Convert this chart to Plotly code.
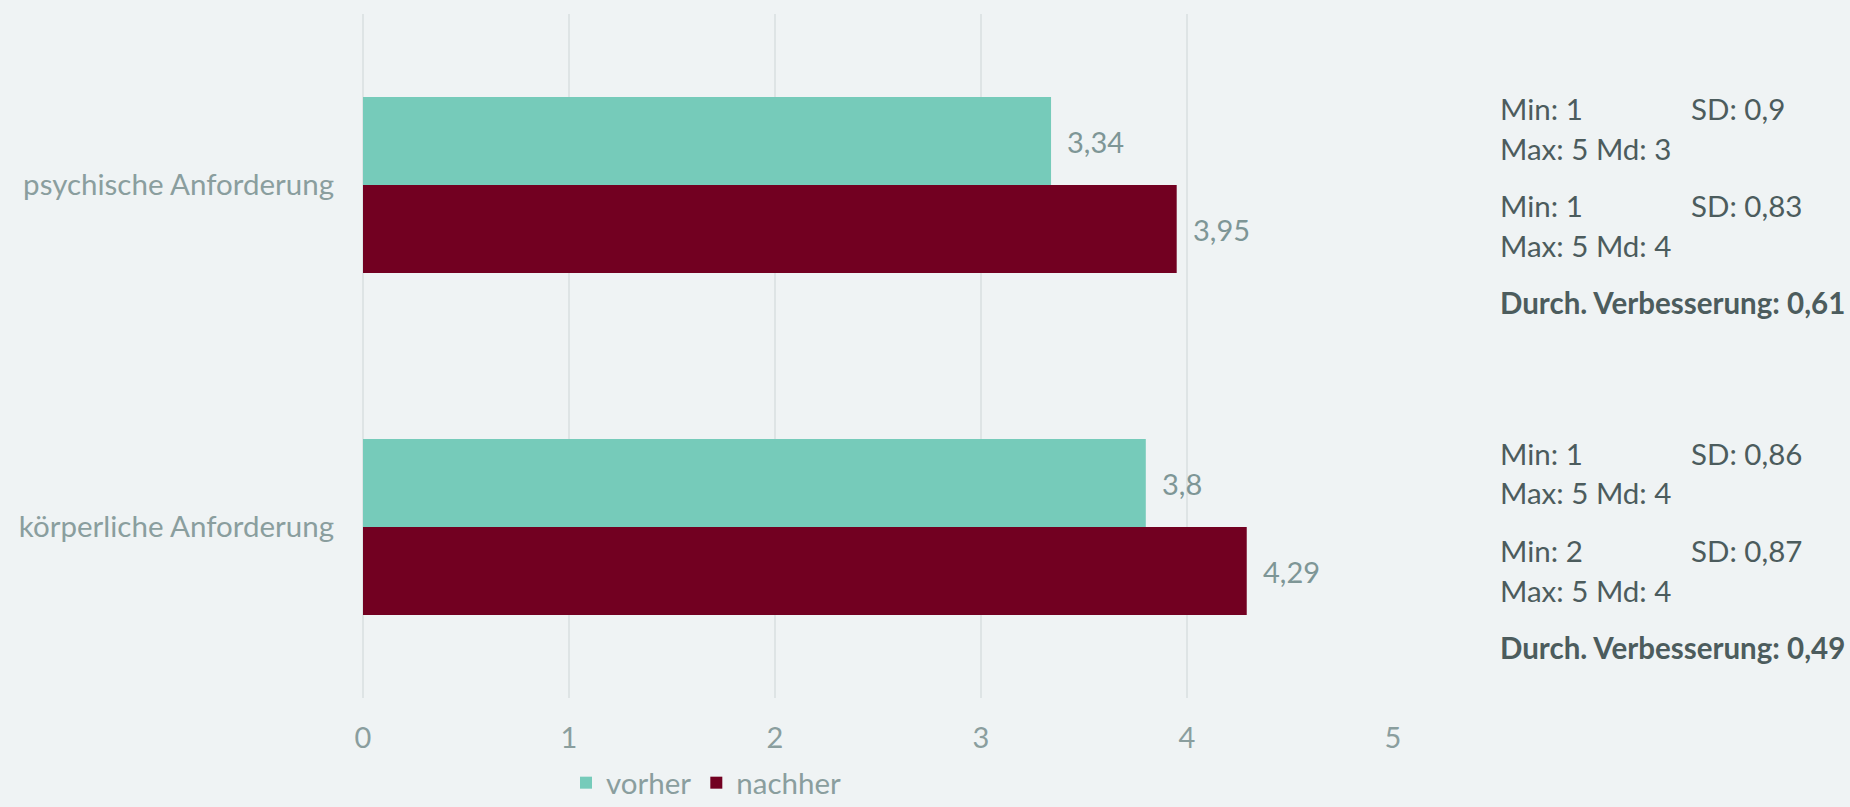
import plotly.graph_objects as go

# Categories (top to bottom) and mean scores before / after
categories = ["psychische Anforderung", "körperliche Anforderung"]
vorher = [3.34, 3.80]
nachher = [3.95, 4.29]
series_names = ["vorher", "nachher"]

# Descriptive statistics shown beside each category
stats_vorher = [
    {"min": 1, "max": 5, "sd": "0,9", "md": 3},
    {"min": 1, "max": 5, "sd": "0,86", "md": 4},
]
stats_nachher = [
    {"min": 1, "max": 5, "sd": "0,83", "md": 4},
    {"min": 2, "max": 5, "sd": "0,87", "md": 4},
]
improvement = ["0,61", "0,49"]

x_ticks = [0, 1, 2, 3, 4, 5]

TEAL = "#76CBBA"
WINE = "#720021"
BG = "#EFF3F4"
GRID = "#DEE4E5"
AXIS_TXT = "#8A9E9E"
VAL_TXT = "#7E9696"
STAT_TXT = "#4C5C5D"
FONT = "Lato"
FS = 29.5

W, H = 1850, 807
L, R, T, B = 363, 457, 14, 109
plot_h = H - T - B


def fmt(v):
    return f"{v:g}".replace(".", ",")


def py(pix):
    """Pixel row -> paper y."""
    return (H - B - pix) / plot_h


def px(pix):
    """Pixel column -> paper x."""
    return (pix - L) / (W - L - R)


fig = go.Figure()
fig.add_trace(go.Bar(y=categories, x=vorher, name=series_names[0], orientation="h",
                     marker=dict(color=TEAL, line=dict(width=0))))
fig.add_trace(go.Bar(y=categories, x=nachher, name=series_names[1], orientation="h",
                     marker=dict(color=WINE, line=dict(width=0))))

annotations = []
# value labels right of each bar
for cat, v in zip(categories, vorher):
    annotations.append(dict(x=v, y=cat, xref="x", yref="y", text=fmt(v), showarrow=False,
                            xanchor="left", yanchor="middle", xshift=14, yshift=44,
                            font=dict(family=FONT, size=29, color=VAL_TXT)))
for cat, v in zip(categories, nachher):
    annotations.append(dict(x=v, y=cat, xref="x", yref="y", text=fmt(v), showarrow=False,
                            xanchor="left", yanchor="middle", xshift=14, yshift=-44,
                            font=dict(family=FONT, size=29, color=VAL_TXT)))

# statistics block for each category
stat_font = dict(family=FONT, size=FS, color=STAT_TXT)
block_rows = [[108, 149, 205, 245, 302], [453, 493, 550, 590, 647]]
for i, rows in enumerate(block_rows):
    sv, sn = stats_vorher[i], stats_nachher[i]
    lines = [
        (rows[0], f"Min: {sv['min']}", f"SD: {sv['sd']}"),
        (rows[1], f"Max: {sv['max']} Md: {sv['md']}", None),
        (rows[2], f"Min: {sn['min']}", f"SD: {sn['sd']}"),
        (rows[3], f"Max: {sn['max']} Md: {sn['md']}", None),
    ]
    for yy, left, right in lines:
        annotations.append(dict(x=px(1498), y=py(yy), xref="paper", yref="paper", text=left,
                                showarrow=False, xanchor="left", yanchor="middle", font=stat_font))
        if right:
            annotations.append(dict(x=px(1689), y=py(yy), xref="paper", yref="paper", text=right,
                                    showarrow=False, xanchor="left", yanchor="middle", font=stat_font))
    annotations.append(dict(x=px(1498), y=py(rows[4]), xref="paper", yref="paper",
                            text=f"<b>Durch. Verbesserung: {improvement[i]}</b>",
                            showarrow=False, xanchor="left", yanchor="middle", font=stat_font))

fig.update_layout(
    width=W, height=H,
    margin=dict(l=L, r=R, t=T, b=B, autoexpand=False),
    paper_bgcolor=BG, plot_bgcolor=BG,
    barmode="group", bargap=0.485, bargroupgap=0,
    font=dict(family=FONT, size=FS, color=AXIS_TXT),
    showlegend=True,
    legend=dict(orientation="h", x=px(566), y=py(757), xanchor="left", yanchor="top",
                traceorder="normal", font=dict(family=FONT, size=FS, color=AXIS_TXT),
                bgcolor="rgba(0,0,0,0)", itemwidth=30),
    annotations=annotations,
)
fig.update_xaxes(range=[0, 5], tickvals=x_ticks, ticktext=[str(t) for t in x_ticks],
                 showgrid=True, gridcolor=GRID, gridwidth=2,
                 zeroline=True, zerolinecolor=GRID, zerolinewidth=2,
                 showline=False, ticks="", ticklabelstandoff=20,
                 tickfont=dict(family=FONT, size=29, color=AXIS_TXT), fixedrange=True)
fig.update_yaxes(autorange="reversed", showgrid=False, zeroline=False, showline=False,
                 ticks="", ticklabelstandoff=28,
                 tickfont=dict(family=FONT, size=FS, color=AXIS_TXT), fixedrange=True)

fig.write_html("out.html", config={"displayModeBar": False})
